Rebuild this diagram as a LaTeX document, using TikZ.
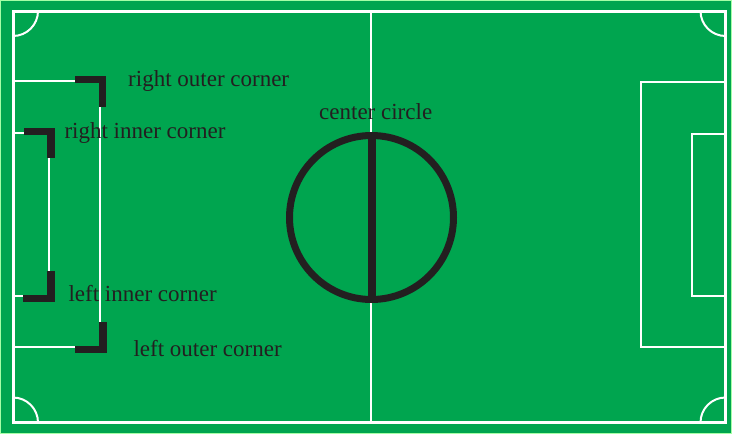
\documentclass[tikz,border=0pt]{standalone}
\usepackage{fontspec}
\setmainfont{Liberation Serif}
\definecolor{pitch}{HTML}{00A54F}
\definecolor{markblack}{HTML}{231F20}
\begin{document}
\begin{tikzpicture}[x=1pt,y=-1pt,
  fieldline/.style={draw=white,line width=2pt},
  outerline/.style={draw=white,line width=3pt},
  markerline/.style={draw=markblack,line width=7.5pt,line join=miter},
  lbl/.style={anchor=base west,inner sep=0pt,text=markblack,font=\fontsize{23}{27}\selectfont}]
\useasboundingbox (0,0) rectangle (732,434);
\fill[pitch] (0,0) rectangle (732,434);
\draw[green!35!white,line width=1pt] (0.5,0.5) rectangle (731.5,433.5);
% outer boundary
\draw[outerline] (13,11) rectangle (725.5,422.5);
% corner arcs
\draw[fieldline] (38,11) arc[start angle=0,end angle=90,radius=25];
\draw[fieldline] (700.5,11) arc[start angle=180,end angle=90,radius=25];
\draw[fieldline] (38,422.5) arc[start angle=0,end angle=-90,radius=25];
\draw[fieldline] (700.5,422.5) arc[start angle=180,end angle=270,radius=25];
% halfway line
\draw[fieldline] (371,11) -- (371,422.5);
% left penalty and goal areas
\draw[fieldline] (13,81) -- (100,81) -- (100,347) -- (13,347);
\draw[fieldline] (13,133) -- (49,133) -- (49,296) -- (13,296);
% right penalty and goal areas
\draw[fieldline] (725.5,82) -- (641,82) -- (641,347) -- (725.5,347);
\draw[fieldline] (725.5,133.5) -- (692,133.5) -- (692,296) -- (725.5,296);
% center circle
\draw[draw=markblack,line width=7pt] (371.5,217.5) circle[radius=82];
\draw[draw=markblack,line width=7.5pt] (372,135.5) -- (372,299.5);
% corner markers
\draw[markerline] (75,79.5) -- (102.5,79.5) -- (102.5,107);
\draw[markerline] (24,131.5) -- (51,131.5) -- (51,158);
\draw[markerline] (51,271) -- (51,298.5) -- (23,298.5);
\draw[markerline] (103,322) -- (103,349.5) -- (75,349.5);
% labels
\node[lbl] (ro) at (128,86.7) {right outer corner};
\node[lbl] (ri) at (64.3,138.3) {right inner corner};
\node[lbl] (li) at (68.3,301.7) {left inner corner};
\node[lbl] (lo) at (133.3,356) {left outer corner};
\node[lbl] (cc) at (319,119.3) {center circle};
\end{tikzpicture}
\end{document}
